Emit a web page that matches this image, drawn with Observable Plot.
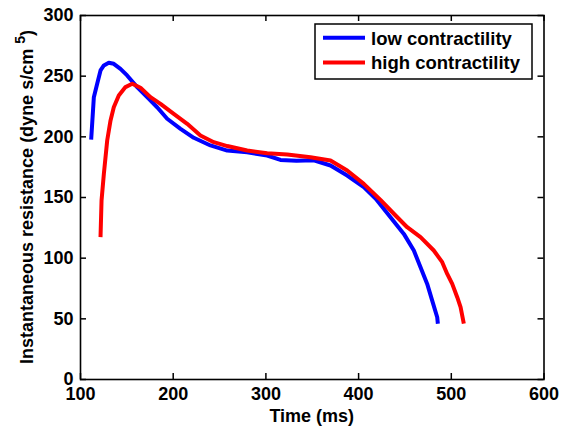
<!DOCTYPE html>
<html>
<head>
<meta charset="utf-8">
<script src="https://cdn.jsdelivr.net/npm/d3@7"></script>
<script src="https://cdn.jsdelivr.net/npm/@observablehq/plot@0.6"></script>
<style>
  html, body { margin: 0; padding: 0; background: white; }
</style>
</head>
<body>
<div id="chart"></div>
<script>
const seriesNames = ["low contractility", "high contractility"];
const seriesColors = ["#0000ff", "#ff0000"];
const xTicks = [100, 200, 300, 400, 500, 600];
const yTicks = [0, 50, 100, 150, 200, 250, 300];
const xLabel = "Time (ms)";
const yLabel = "Instantaneous resistance (dyne s/cm";
const yLabelSup = "5";

const lowTime = [111.5, 114.4, 118, 121.6, 125.2, 130.5, 135.9, 143.1, 150.3, 161.1, 171.9, 182.7, 193.5, 207.9, 222.2, 240.2, 258.3, 279.8, 301.4, 315.7, 333, 351.7, 369.7, 387.7, 405.6, 418.5, 434.4, 448.8, 459.6, 466.8, 474, 479.4, 484.8, 485.5];
const lowRes  = [197.8, 232.7, 243.7, 254.7, 258.8, 261, 260.2, 256, 250.6, 241, 232.7, 224.4, 214.9, 206.6, 199.2, 192.9, 188.7, 187.3, 184.6, 181, 180.3, 180.7, 176.4, 168.1, 158.5, 148.9, 133.8, 120, 106.3, 92.5, 78.8, 65, 51.3, 46];

const highTime = [121.6, 122.7, 125.2, 128.8, 132.4, 135.9, 141.3, 148.5, 155.8, 164.7, 175.5, 186.3, 200.6, 215.1, 229.4, 243.8, 258.3, 279.8, 301.4, 323, 348.1, 369.7, 387.7, 405.6, 423.6, 438, 452.4, 466.8, 481.1, 490.2, 495.6, 501, 506.4, 510, 513.5];
const highRes  = [117.3, 147.5, 169.5, 197, 213.5, 224.4, 234.1, 241, 243.7, 240.4, 232.7, 227.2, 219, 210.7, 201.1, 195.6, 192.4, 188.7, 186.5, 185.4, 183.2, 180.5, 172.3, 161.2, 148, 136.6, 125.5, 117.3, 106.3, 96.7, 87, 78.8, 67.8, 59.6, 46];

const rows = [
  ...lowTime.map((t, i) => ({time: t, res: lowRes[i], series: seriesNames[0]})),
  ...highTime.map((t, i) => ({time: t, res: highRes[i], series: seriesNames[1]}))
];

const W = 563, H = 428;
const mL = 80, mR = 19.5, mT = 15, mB = 49;
const plotW = W - mL - mR, plotH = H - mT - mB;
const font = "'Liberation Sans', Arial, Helvetica, sans-serif";
const tk = 6;

const chart = Plot.plot({
  width: W,
  height: H,
  marginLeft: mL,
  marginRight: mR,
  marginTop: mT,
  marginBottom: mB,
  style: {fontFamily: font, fontWeight: "bold", fontSize: "18px", background: "white", color: "black", overflow: "visible"},
  x: {domain: [100, 600], label: null},
  y: {domain: [0, 300], label: null},
  color: {domain: seriesNames, range: seriesColors},
  marks: [
    Plot.axisX(xTicks, {anchor: "bottom", tickSize: 0, tickPadding: 7.5, label: null}),
    Plot.axisY(yTicks, {anchor: "left", tickSize: 0, tickPadding: 7, label: null}),
    Plot.line(rows, {x: "time", y: "res", z: "series", stroke: "series", strokeWidth: 4, strokeLinejoin: "round", strokeLinecap: "butt"}),
    Plot.frame({stroke: "black", strokeWidth: 1.6}),
    // inward ticks on all four sides
    Plot.tickX(xTicks, {x: d => d, stroke: "#000", strokeWidth: 1.5, insetTop: plotH - tk}),
    Plot.tickX(xTicks, {x: d => d, stroke: "#000", strokeWidth: 1.5, insetBottom: plotH - tk}),
    Plot.tickY(yTicks, {y: d => d, stroke: "#000", strokeWidth: 1.5, insetRight: plotW - tk}),
    Plot.tickY(yTicks, {y: d => d, stroke: "#000", strokeWidth: 1.5, insetLeft: plotW - tk})
  ]
});

document.getElementById("chart").appendChild(chart);

const svg = d3.select(chart);

// axis titles
svg.append("text")
  .attr("x", (mL + (W - mR)) / 2)
  .attr("y", 421.5)
  .attr("text-anchor", "middle")
  .attr("font-family", font)
  .attr("font-weight", "bold")
  .attr("font-size", 18)
  .attr("fill", "black")
  .text(xLabel);

const yt = svg.append("text")
  .attr("transform", `translate(33,${(mT + (H - mB)) / 2}) rotate(-90)`)
  .attr("text-anchor", "middle")
  .attr("font-family", font)
  .attr("font-weight", "bold")
  .attr("font-size", 18)
  .attr("fill", "black");
yt.append("tspan").text(yLabel + " ");
yt.append("tspan").attr("font-size", 14).attr("dy", -8).text(yLabelSup);
yt.append("tspan").attr("dy", 8).text(")");

// legend
const lg = svg.append("g");
lg.append("rect")
  .attr("x", 315).attr("y", 24).attr("width", 217).attr("height", 55)
  .attr("fill", "white").attr("stroke", "black").attr("stroke-width", 1.5);
seriesNames.forEach((name, i) => {
  const cy = 37.8 + i * 24.6;
  lg.append("line")
    .attr("x1", 323).attr("x2", 365).attr("y1", cy).attr("y2", cy)
    .attr("stroke", seriesColors[i]).attr("stroke-width", 4);
  lg.append("text")
    .attr("x", 371).attr("y", cy + 7)
    .attr("text-anchor", "start")
    .attr("font-family", font).attr("font-weight", "bold").attr("font-size", 18.5)
    .attr("fill", "black")
    .text(name);
});
</script>
</body>
</html>
